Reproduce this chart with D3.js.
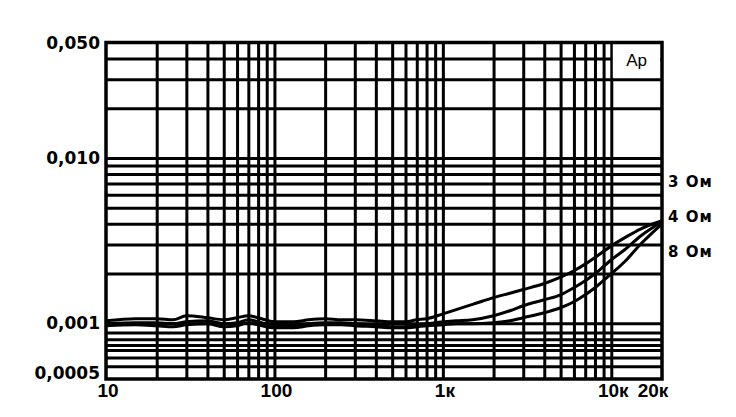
<!DOCTYPE html>
<html>
<head>
<meta charset="utf-8">
<script src="https://cdn.jsdelivr.net/npm/d3@7"></script>
<style>
  body { margin: 0; background: #fff; }
</style>
</head>
<body>
<script>
// frequency points, Hz
const freqs = [10, 15, 20, 25, 30, 40, 50, 60, 70, 80, 100, 130, 160, 200, 250, 300, 400, 500, 600, 700, 800,
    1000, 1200, 1500, 2000, 2500, 3000, 4000, 5000, 6000, 7000, 8000, 10000, 12000, 15000, 20000];

// THD at 3, 4 and 8 Ohm load
const thd3 = [0.001035, 0.001065, 0.001065, 0.00105, 0.00111, 0.00108, 0.00105, 0.00108, 0.00111, 0.00108, 0.00102,
    0.00102, 0.00105, 0.001065, 0.00105, 0.00105, 0.001035, 0.00102, 0.00102, 0.00105, 0.001065,
    0.00114, 0.00121, 0.0013, 0.00143, 0.00152, 0.0016, 0.00174, 0.0019, 0.00208, 0.00228, 0.0025,
    0.00294, 0.00329, 0.00373, 0.00417];
const thd4 = [0.000993, 0.001007, 0.001007, 0.000993, 0.001021, 0.001035, 0.000993, 0.001007, 0.00105, 0.001021, 0.000966,
    0.000966, 0.000993, 0.001007, 0.001007, 0.000993, 0.000979, 0.000952, 0.000952, 0.000979, 0.000993,
    0.001021, 0.001035, 0.00105, 0.00111, 0.00119, 0.001276, 0.001387, 0.001487, 0.00164, 0.001807, 0.001993,
    0.002422, 0.002784, 0.003383, 0.004112];
const thd8 = [0.000966, 0.000979, 0.000966, 0.000952, 0.000979, 0.000993, 0.000952, 0.000966, 0.001007, 0.000979, 0.000939,
    0.000939, 0.000966, 0.000979, 0.000979, 0.000966, 0.000952, 0.000939, 0.000939, 0.000952, 0.000966,
    0.000979, 0.000993, 0.000993, 0.001007, 0.001035, 0.00108, 0.001157, 0.001241, 0.001349, 0.001487, 0.00164,
    0.001993, 0.002356, 0.003026, 0.004];

// ticks and grid
const xTicks = [10, 100, 1000, 10000, 20000];
const xTickLabels = ['10', '100', '1к', '10к', '20к'];
const yTicks = [0.05, 0.01, 0.001, 0.0005];
const yTickLabels = ['0,050', '0,010', '0,001', '0,0005'];
const xGrid = [20, 30, 40, 50, 60, 70, 80, 90, 100, 200, 300, 400, 500, 600, 700, 800, 900,
    1000, 2000, 3000, 4000, 5000, 6000, 7000, 8000, 9000, 10000];
const yGrid = [0.04, 0.03, 0.02, 0.01, 0.009, 0.008, 0.007, 0.006, 0.005, 0.004, 0.003, 0.002,
    0.001, 0.00088, 0.0008, 0.00074, 0.00069, 0.00062, 0.00055];
const seriesNames = ['3 Ом', '4 Ом', '8 Ом'];
const labelValues = [0.0072, 0.0044, 0.0027]; // where the right labels sit

var svg = d3.select('body').append('svg')
    .attr('width', 736)
    .attr('height', 417);

var x = d3.scaleLog().domain([10, 20000]).range([106, 662]);
var y = d3.scaleLog().domain([0.00046, 0.05]).range([379, 42.5]);
var plotL = x.range()[0], plotR = x.range()[1];
var plotT = y.range()[1], plotB = y.range()[0];

// vertical grid
svg.append('g')
    .attr('transform', 'translate(0,' + plotB + ')')
    .call(d3.axisBottom(x).tickValues(xGrid).tickSize(-(plotB - plotT)).tickFormat(''))
    .call(g => g.select('.domain').remove())
    .selectAll('line')
    .attr('stroke', '#000')
    .attr('stroke-width', 3);

// horizontal grid
svg.append('g')
    .attr('transform', 'translate(' + plotL + ',0)')
    .call(d3.axisLeft(y).tickValues(yGrid).tickSize(-(plotR - plotL)).tickFormat(''))
    .call(g => g.select('.domain').remove())
    .selectAll('line')
    .attr('stroke', '#000')
    .attr('stroke-width', 3);

// "Ap" box in the corner
svg.append('rect')
    .attr('x', x(10000) + 1.5)
    .attr('y', plotT + 1)
    .attr('width', plotR - x(10000) - 3)
    .attr('height', y(0.03) - plotT - 2.5)
    .attr('fill', '#fff');
svg.append('text')
    .attr('x', (x(10000) + plotR) / 2)
    .attr('y', 66)
    .attr('text-anchor', 'middle')
    .attr('font-family', 'Liberation Sans, Arial, sans-serif')
    .attr('font-size', 17)
    .text('Ap');

// frame
svg.append('rect')
    .attr('x', plotL)
    .attr('y', plotT)
    .attr('width', plotR - plotL)
    .attr('height', plotB - plotT)
    .attr('fill', 'none')
    .attr('stroke', '#000')
    .attr('stroke-width', 3.5);

// curves
var line = d3.line()
    .x(d => x(d[0]))
    .y(d => y(d[1]))
    .curve(d3.curveMonotoneX);

[thd8, thd4, thd3].forEach(function (s) {
    svg.append('path')
        .datum(d3.zip(freqs, s))
        .attr('fill', 'none')
        .attr('stroke', '#000')
        .attr('stroke-width', 3)
        .attr('stroke-linejoin', 'round')
        .attr('d', line);
});

// x labels
svg.append('g')
    .selectAll('text')
    .data(xTicks)
    .join('text')
    .attr('x', (d, i) => i === xTicks.length - 1 ? x(d) - 9 : x(d) + 2)
    .attr('y', 397)
    .attr('text-anchor', 'middle')
    .attr('font-family', 'Liberation Sans, Arial, sans-serif')
    .attr('font-weight', 'bold')
    .attr('font-size', 19)
    .text((d, i) => xTickLabels[i]);

// y labels
svg.append('g')
    .selectAll('text')
    .data(yTicks)
    .join('text')
    .attr('x', 100)
    .attr('y', d => y(d))
    .attr('dy', '0.36em')
    .attr('text-anchor', 'end')
    .attr('font-family', 'DejaVu Sans, sans-serif')
    .attr('font-weight', 'bold')
    .attr('font-size', 17)
    .text((d, i) => yTickLabels[i]);

// load labels at the right
svg.append('g')
    .selectAll('text')
    .data(labelValues)
    .join('text')
    .attr('x', 668)
    .attr('y', d => y(d))
    .attr('dy', '0.36em')
    .attr('font-family', 'DejaVu Sans, sans-serif')
    .attr('font-weight', 'bold')
    .attr('font-size', 15)
    .attr('letter-spacing', 1)
    .text((d, i) => seriesNames[i]);
</script>
</body>
</html>
